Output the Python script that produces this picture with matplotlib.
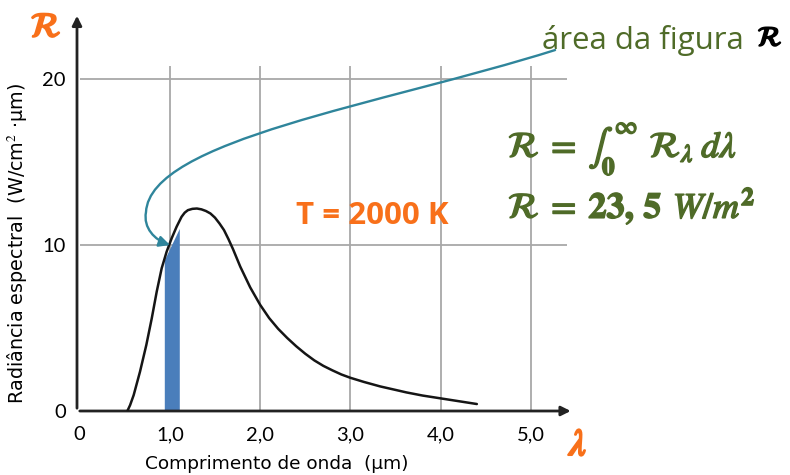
import matplotlib
matplotlib.use("Agg")
import matplotlib.pyplot as plt
import matplotlib.patheffects as pe
from matplotlib.path import Path
from matplotlib.patches import FancyArrowPatch

plt.rcParams['mathtext.fontset'] = 'stix'

# curva de radiancia espectral (T = 2000 K)
lam = [0.53, 0.56, 0.60, 0.67, 0.74, 0.80, 0.855, 0.91, 0.965, 1.02, 1.075,
       1.13, 1.165, 1.2, 1.25, 1.3, 1.35, 1.4, 1.45, 1.5, 1.55, 1.6, 1.65,
       1.7, 1.78, 1.89, 2.0, 2.1, 2.2, 2.3, 2.4, 2.5, 2.6, 2.7, 2.8, 2.9,
       3.0, 3.15, 3.33, 3.5, 3.62, 3.8, 4.0, 4.2, 4.4]
rad = [0.0, 0.35, 0.96, 2.37, 3.98, 5.58, 7.19, 8.6, 9.6, 10.4, 11.1,
       11.7, 11.95, 12.1, 12.18, 12.2, 12.15, 12.05, 11.9, 11.65, 11.3, 10.9,
       10.35, 9.75, 8.7, 7.45, 6.4, 5.6, 4.95, 4.4, 3.9, 3.45, 3.05, 2.72,
       2.45, 2.2, 2.0, 1.75, 1.48, 1.27, 1.12, 0.93, 0.76, 0.59, 0.42]

# faixa destacada (d lambda)
faixa_x = [0.939, 1.105]
faixa_y = [9.1, 11.0]

xticks = [0, 1, 2, 3, 4, 5]
xlabels = ['0', '1,0', '2,0', '3,0', '4,0', '5,0']
yticks = [0, 10, 20]
ylabels = ['0', '10', '20']

laranja = '#F8701A'
verde = '#4F6B28'
azul = '#4A7EBB'
teal = '#2F859B'
cinza = '#A8A8A8'

fig = plt.figure(figsize=(7.9, 4.75), dpi=100)
ax = fig.add_axes([77/790, 64/475, 501/790, 398/475])
ax.set_xlim(-0.0277, 5.52)
ax.set_ylim(0, 23.98)
for s in ax.spines.values():
    s.set_visible(False)

# grade
ax.hlines([10, 20], 0.01, 5.4, color=cinza, lw=1.3, zorder=1)
ax.vlines([1, 2, 3, 4, 5], 0, 20.8, color=cinza, lw=1.3, zorder=1)

# eixos com setas
ax.annotate('', xy=(5.47, 0), xytext=(-0.0277, 0),
            arrowprops=dict(arrowstyle='-|>', color='#222222', lw=2,
                            mutation_scale=14), annotation_clip=False)
ax.annotate('', xy=(-0.0277, 23.98), xytext=(-0.0277, 0),
            arrowprops=dict(arrowstyle='-|>', color='#222222', lw=2,
                            mutation_scale=14), annotation_clip=False)

ax.fill_between(faixa_x, 0, faixa_y, color=azul, lw=0, zorder=2)
ax.plot(lam, rad, color='#151515', lw=1.8, zorder=3,
        solid_joinstyle='round', solid_capstyle='round')

ax.set_xticks(xticks)
ax.set_xticklabels(xlabels, fontfamily='Lato', fontsize=14.5)
ax.set_yticks(yticks)
ax.set_yticklabels(ylabels, fontfamily='Lato', fontsize=14.5)
ax.tick_params(length=0)
ax.tick_params(axis='x', pad=11)
ax.tick_params(axis='y', pad=8)

ax.set_xlabel('Comprimento de onda  (μm)', fontsize=13.3, va='center')
ax.xaxis.set_label_coords((277 - 77) / 501, (411 - 464) / 398)
ax.set_ylabel('Radiância espectral  (W/cm$^2$ ·μm)', fontsize=13.8,
              va='center')
ax.yaxis.set_label_coords((18 - 77) / 501, (411 - 243) / 398)

# seta curva ate a faixa
def p2d(px, py):
    return ((px - 79.5) / 90.3, (411 - py) / 16.6)

verts = [p2d(555, 50), p2d(380, 105), p2d(150, 140), p2d(146, 212),
         p2d(143, 228), p2d(155, 240), p2d(170, 245)]
codes = [Path.MOVETO] + [Path.CURVE4] * 6
seta = FancyArrowPatch(path=Path(verts, codes), arrowstyle='-|>',
                       mutation_scale=16, color=teal, lw=1.7, zorder=4)
ax.add_patch(seta)

fig.text(46/790, 1 - 27/475, r'$\mathcal{R}$', color=laranja, fontsize=25,
         ha='center', va='center',
         path_effects=[pe.withStroke(linewidth=1.5, foreground=laranja)])
fig.text(578/790, 1 - 445/475, r'$\lambda$', color=laranja, fontsize=27,
         ha='center', va='center',
         path_effects=[pe.withStroke(linewidth=1.6, foreground=laranja)])

fig.text(372/790, 1 - 216/475, 'T = 2000 K', color=laranja, fontsize=22.5,
         fontfamily='Open Sans', fontweight='bold', ha='center', va='center')

fig.text(542/790, 1 - 49/475, 'área da figura', color=verde, fontsize=22.5,
         fontfamily='Open Sans', ha='left', va='baseline')
fig.text(770/790, 1 - 38/475, r'$\mathcal{R}$', color='black', fontsize=20,
         ha='center', va='center',
         path_effects=[pe.withStroke(linewidth=1.3, foreground='black')])

fig.text(508/790, 1 - 157/475,
         r'$\mathcal{R}\;=\;\int_{\mathbf{0}}^{\infty}\;\,\mathcal{R}_{\lambda}\;\mathit{d\lambda}$',
         color=verde, fontsize=26, ha='left', va='baseline',
         path_effects=[pe.withStroke(linewidth=1.1, foreground=verde)])
fig.text(508/790, 1 - 218/475,
         r'$\mathcal{R}\;=\;\mathbf{23,}\,\mathbf{5}\;\,W/m^{\mathbf{2}}$',
         color=verde, fontsize=26, ha='left', va='baseline',
         path_effects=[pe.withStroke(linewidth=1.1, foreground=verde)])

fig.savefig('out.png', dpi=100)
